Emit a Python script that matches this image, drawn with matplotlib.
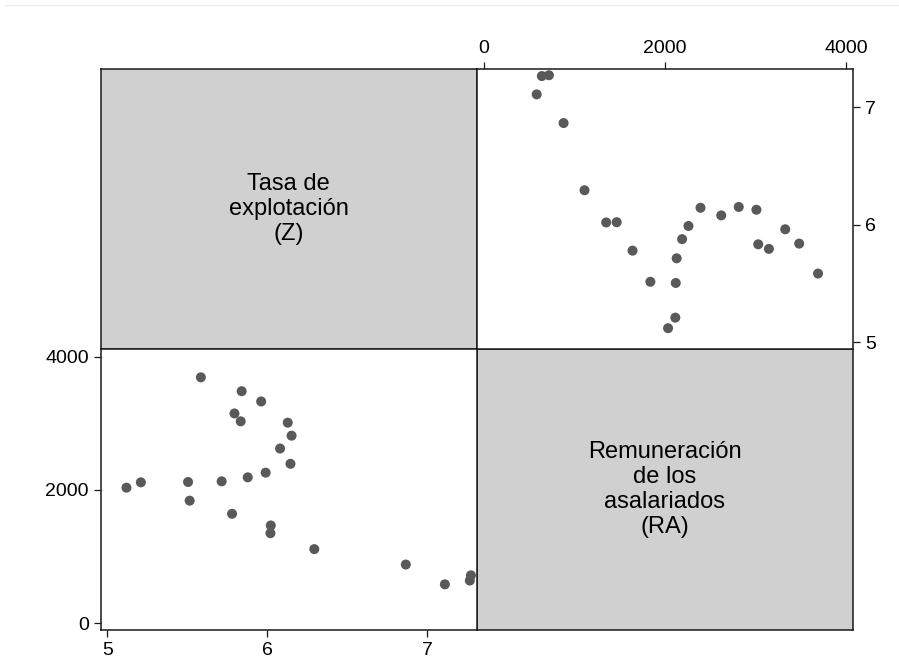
import matplotlib
matplotlib.use("Agg")
import matplotlib.pyplot as plt
from matplotlib.lines import Line2D

plt.rcParams["font.family"] = ["Liberation Sans", "DejaVu Sans"]

# Tasa de explotación (Z) y remuneración de los asalariados (RA)
tasa_z = [5.12, 5.21, 5.505, 5.515, 5.585, 5.715, 5.78, 5.795, 5.834, 5.84,
          5.878, 5.962, 5.99, 6.022, 6.02, 6.08, 6.128, 6.152, 6.145, 6.294,
          6.866, 7.11, 7.273, 7.266]
remuneracion_ra = [2035, 2115, 2120, 1840, 3690, 2130, 1643, 3148, 3030, 3482,
                   2190, 3328, 2260, 1468, 1352, 2622, 3010, 2815, 2393, 1113,
                   882, 585, 720, 642]

z_ticks = [5, 6, 7]
ra_ticks = [0, 2000, 4000]
label_z = "Tasa de\nexplotación\n(Z)"
label_ra = "Remuneración\nde los\nasalariados\n(RA)"

W, H = 899, 665
fig = plt.figure(figsize=(W / 100, H / 100), dpi=100)
fig.patch.set_facecolor("white")

def px_axes(left, top, right, bottom):
    return fig.add_axes([left / W, 1 - bottom / H, (right - left) / W, (bottom - top) / H])

x0, x1, x2 = 100.7, 476.7, 853.0
y0, y1, y2 = 69.0, 349.0, 630.0

gray = "#d0d0d0"
dot = "#595959"
edge = "#1a1a1a"
fs_tick = 14
fs_lab = 17
msize = 52

def style(ax):
    for s in ax.spines.values():
        s.set_linewidth(1.1)
        s.set_color(edge)
    ax.tick_params(length=5, width=0.9, color=edge, labelsize=fs_tick, pad=3.5)

# Diagonal panels with variable names
ax_tl = px_axes(x0, y0, x1, y1)
ax_br = px_axes(x1, y1, x2, y2)
for ax, lab in ((ax_tl, label_z), (ax_br, label_ra)):
    ax.set_facecolor(gray)
    ax.set_xticks([])
    ax.set_yticks([])
    style(ax)
    ax.text(0.5, 0.5, lab, ha="center", va="center", fontsize=fs_lab,
            transform=ax.transAxes, linespacing=1.17)

# Z against RA (upper right)
ax_tr = px_axes(x1, y0, x2, y1)
ax_tr.scatter(remuneracion_ra, tasa_z, s=msize, color=dot, edgecolors="none", zorder=3)
ax_tr.set_xlim(-77, 4076)
ax_tr.set_ylim(4.943, 7.326)
ax_tr.set_xticks(ra_ticks)
ax_tr.set_yticks(z_ticks)
ax_tr.xaxis.tick_top()
ax_tr.yaxis.tick_right()
style(ax_tr)

# RA against Z (lower left)
ax_bl = px_axes(x0, y1, x1, y2)
ax_bl.scatter(tasa_z, remuneracion_ra, s=msize, color=dot, edgecolors="none", zorder=3)
ax_bl.set_xlim(4.959, 7.309)
ax_bl.set_ylim(-100, 4115)
ax_bl.set_xticks(z_ticks)
ax_bl.set_yticks(ra_ticks)
style(ax_bl)

# faint outline of the graph region
fig.add_artist(Line2D([5 / W, 1], [1 - 5 / H, 1 - 5 / H], color="#ececec", lw=1,
                      transform=fig.transFigure))

fig.savefig("out.png", dpi=100, facecolor="white")
